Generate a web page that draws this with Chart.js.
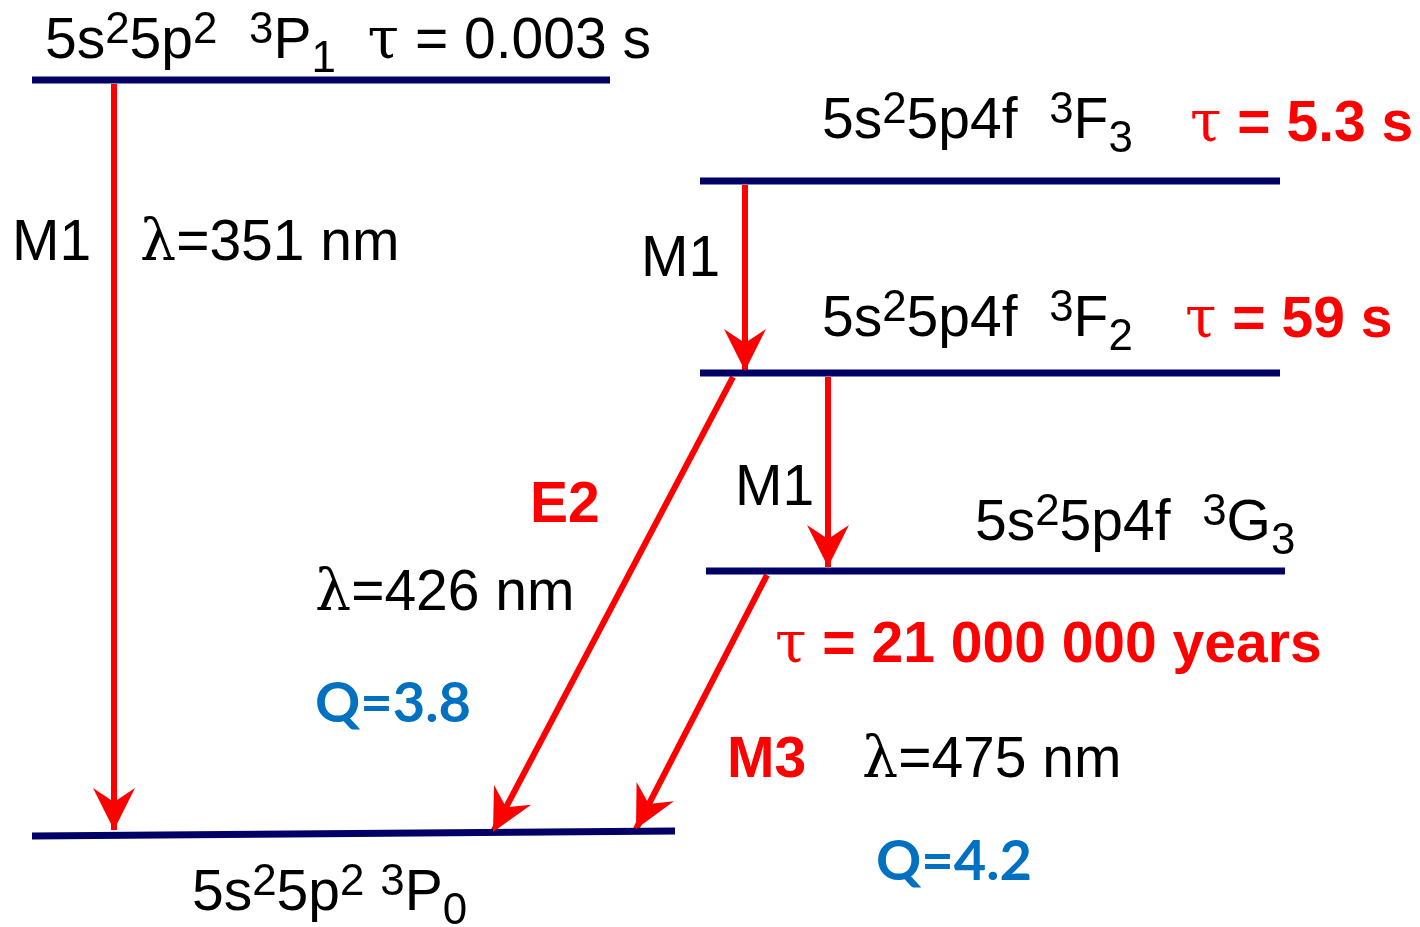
<!DOCTYPE html>
<html>
<head>
<meta charset="utf-8">
<script src="https://cdn.jsdelivr.net/npm/chart.js@4"></script>
<style>
html, body { margin: 0; padding: 0; background: #fff; }
#wrap { width: 1420px; height: 927px; position: relative; }
</style>
</head>
<body>
<div id="wrap"><canvas id="levels"></canvas></div>
<script>
/* Energy levels: x of both ends and height at each end (diagram units, top-down) */
const levelNames  = ['3P1', '3F3', '3F2', '3G3', '3P0'];
const levelXStart = [32, 700, 700, 706, 32];
const levelXEnd   = [610, 1280, 1280, 1285, 675];
const levelYStart = [80, 181, 373, 571, 836];
const levelYEnd   = [80, 181, 373, 571, 831];

/* Transitions: tail and tip of each arrow */
const arrowNames = ['M1 351 nm', 'M1 3F3-3F2', 'E2 426 nm', 'M1 3F2-3G3', 'M3 475 nm'];
const arrowXFrom = [114, 745, 733, 828, 767];
const arrowYFrom = [84, 185, 377, 377, 575];
const arrowXTo   = [114, 745, 493, 828, 636];
const arrowYTo   = [830, 371, 832, 567, 829];

/* Text labels: ^{..} superscript, _{..} subscript */
const labelTexts = [
	'5s^{2}5p^{2}  ^{3}P_{1}  τ = 0.003 s',
	'M1',
	'λ=351 nm',
	'5s^{2}5p4f  ^{3}F_{3}',
	'τ = 5.3 s',
	'M1',
	'5s^{2}5p4f  ^{3}F_{2}',
	'τ = 59 s',
	'E2',
	'M1',
	'5s^{2}5p4f  ^{3}G_{3}',
	'λ=426 nm',
	'τ = 21 000 000 years',
	'Q=3.8',
	'M3',
	'λ=475 nm',
	'Q=4.2',
	'5s^{2}5p^{2} ^{3}P_{0}'
];
const labelX = [45, 12, 140, 822, 1190, 641, 822, 1185, 530, 735, 975, 315, 775, 315, 727, 862, 876, 192];
const labelY = [58, 260, 260, 138, 141, 276, 336, 337, 522, 505, 540, 610, 662, 722, 777, 777, 880, 910];
const labelKind = ['state', 'state', 'state', 'state', 'red', 'state', 'state', 'red', 'red',
                   'state', 'state', 'state', 'red', 'blue', 'red', 'state', 'blue', 'state'];

const textStyles = {
	state: {color: '#000', weight: 'normal', size: 57, family: '"Liberation Sans", Arial, sans-serif'},
	red:   {color: '#ff0000', weight: 'bold', size: 57, family: '"Liberation Sans", Arial, sans-serif'},
	blue:  {color: '#0070c0', weight: 'bold', size: 56, family: 'Lato, "Open Sans", sans-serif'}
};
const greekFamily = '"DejaVu Serif", "Liberation Serif", serif';

/* split "a^{b}c_{d}" into runs with mode 1 = sup, -1 = sub */
function parseRich(str) {
	var out = [];
	var re = /(\^|_)\{([^}]*)\}|([^\^_]+)/g;
	var m;
	while ((m = re.exec(str))) {
		if (m[1]) out.push({t: m[2], mode: m[1] === '^' ? 1 : -1});
		else out.push({t: m[3], mode: 0});
	}
	return out;
}

function drawRich(ctx, str, x, y, st) {
	var cx = x;
	ctx.fillStyle = st.color;
	ctx.textBaseline = 'alphabetic';
	ctx.textAlign = 'left';
	parseRich(str).forEach(function(run) {
		var fs = run.mode ? st.size * 0.77 : st.size;
		var dy = run.mode === 1 ? -st.size * 0.27 : (run.mode === -1 ? st.size * 0.25 : 0);
		var parts = run.t.match(/[τλ]|[^τλ]+/g) || [];
		parts.forEach(function(p) {
			if (/[τλ]/.test(p)) {
				ctx.font = 'normal ' + fs + 'px ' + greekFamily;
			} else {
				ctx.font = st.weight + ' ' + fs + 'px ' + st.family;
			}
			ctx.fillText(p, cx, y + dy);
			cx += ctx.measureText(p).width;
		});
	});
}

const arrowHead = {
	id: 'arrowHead',
	afterDatasetsDraw(chart) {
		const ctx = chart.ctx;
		const xs = chart.scales.x, ys = chart.scales.y;
		ctx.save();
		chart.data.datasets.forEach(function(ds, i) {
			if (ds.kind !== 'arrow') return;
			const pts = chart.getDatasetMeta(i).data;
			const a = pts[0], b = pts[1];
			const dx = b.x - a.x, dy = b.y - a.y;
			const len = Math.hypot(dx, dy);
			const ux = dx / len, uy = dy / len, nx = -uy, ny = ux;
			const L = 42, W = 21, N = 28;
			ctx.fillStyle = ds.borderColor;
			ctx.beginPath();
			ctx.moveTo(b.x, b.y);
			ctx.lineTo(b.x - L * ux + W * nx, b.y - L * uy + W * ny);
			ctx.lineTo(b.x - N * ux, b.y - N * uy);
			ctx.lineTo(b.x - L * ux - W * nx, b.y - L * uy - W * ny);
			ctx.closePath();
			ctx.fill();
		});
		/* labels, placed through the scales */
		for (var k = 0; k < labelTexts.length; k++) {
			drawRich(ctx, labelTexts[k], xs.getPixelForValue(labelX[k]),
			         ys.getPixelForValue(labelY[k]), textStyles[labelKind[k]]);
		}
		ctx.restore();
	}
};

var datasets = [];
for (var i = 0; i < levelNames.length; i++) {
	datasets.push({
		label: levelNames[i],
		kind: 'level',
		data: [{x: levelXStart[i], y: levelYStart[i]}, {x: levelXEnd[i], y: levelYEnd[i]}],
		borderColor: '#000066',
		borderWidth: 7,
		borderCapStyle: 'butt',
		pointRadius: 0,
		showLine: true,
		fill: false
	});
}
for (var j = 0; j < arrowNames.length; j++) {
	datasets.push({
		label: arrowNames[j],
		kind: 'arrow',
		data: [{x: arrowXFrom[j], y: arrowYFrom[j]}, {x: arrowXTo[j], y: arrowYTo[j]}],
		borderColor: '#ff0000',
		borderWidth: 6,
		borderCapStyle: 'butt',
		pointRadius: 0,
		showLine: true,
		fill: false
	});
}

new Chart(document.getElementById('levels').getContext('2d'), {
	type: 'scatter',
	data: {datasets: datasets},
	options: {
		responsive: true,
		maintainAspectRatio: false,
		animation: false,
		events: [],
		layout: {padding: 0},
		plugins: {legend: {display: false}, tooltip: {enabled: false}},
		scales: {
			x: {type: 'linear', display: false, min: 0, max: 1420},
			y: {type: 'linear', display: false, min: 0, max: 927, reverse: true}
		}
	},
	plugins: [arrowHead]
});
</script>
</body>
</html>
